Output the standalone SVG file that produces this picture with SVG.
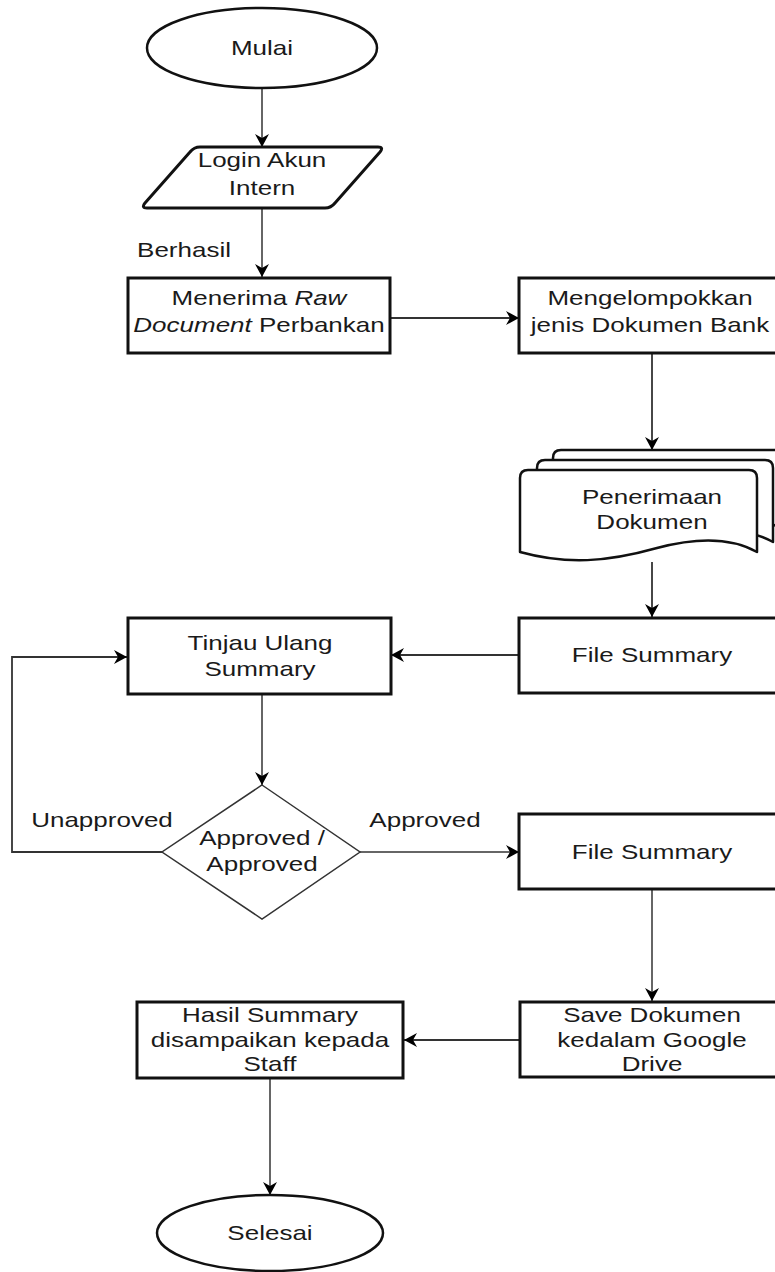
<svg xmlns="http://www.w3.org/2000/svg" width="775" height="1272" viewBox="0 0 775 1272">
<style>
.t{font-family:"Liberation Sans",Arial,Helvetica,sans-serif;font-size:20px;fill:#1a1a1a;text-anchor:middle}
.box{fill:#fff;stroke:#111;stroke-width:3}
.term{fill:#fff;stroke:#111;stroke-width:2.5}
.dec{fill:#fff;stroke:#333;stroke-width:1.5}
.doc{fill:#fff;stroke:#111;stroke-width:2.5;stroke-linejoin:round}
.c{fill:none;stroke:#333;stroke-width:1.8}
.cg{fill:none;stroke:#666;stroke-width:2}
</style>
<defs>
<marker id="ah" markerUnits="userSpaceOnUse" markerWidth="14" markerHeight="14" refX="13" refY="7" orient="auto">
<path d="M0,0 L13,7 L0,14 L4,7 z" fill="#000"/>
</marker>
</defs>
<rect width="775" height="1272" fill="#fff"/>

<g id="connectors">
<path class="cg" d="M262,88 V147" marker-end="url(#ah)"/>
<path class="cg" d="M262,208 V277" marker-end="url(#ah)"/>
<path class="c" d="M390,318 H519" marker-end="url(#ah)"/>
<path class="c" d="M652,353 V450" marker-end="url(#ah)"/>
<path class="c" d="M652,562 V617" marker-end="url(#ah)"/>
<path class="c" d="M519,655 H391" marker-end="url(#ah)"/>
<path class="cg" d="M262,693 V785" marker-end="url(#ah)"/>
<path class="c" d="M162,852 H12 V657 H127" marker-end="url(#ah)"/>
<path class="cg" d="M360,852 H519" marker-end="url(#ah)"/>
<path class="cg" d="M652,889 V1001" marker-end="url(#ah)"/>
<path class="c" d="M520,1040 H404" marker-end="url(#ah)"/>
<path class="cg" d="M270,1078 V1195" marker-end="url(#ah)"/>
<text class="t" transform="translate(184,0) scale(1.3,1)" y="257">Berhasil</text>
<text class="t" transform="translate(102,0) scale(1.3,1)" y="827">Unapproved</text>
<text class="t" transform="translate(425,0) scale(1.3,1)" y="827">Approved</text>
</g>

<g id="mulai">
<ellipse class="term" cx="262" cy="48" rx="115" ry="40"/>
<text class="t" transform="translate(262,0) scale(1.3,1)" y="55">Mulai</text>
</g>

<g id="login">
<path class="box" stroke-width="2.5" stroke-linejoin="round" d="M200,147 H378 Q384,147 380,152 L335,203 Q331,208 325,208 H147 Q141,208 145,203 L190,152 Q194,147 200,147 z"/>
<text class="t" transform="translate(262,0) scale(1.3,1)" y="167">Login Akun</text>
<text class="t" transform="translate(262,0) scale(1.3,1)" y="195">Intern</text>
</g>

<g id="menerima">
<rect class="box" x="128" y="278" width="262" height="75"/>
<text class="t" transform="translate(259,0) scale(1.3,1)" y="305">Menerima <tspan font-style="italic">Raw</tspan></text>
<text class="t" transform="translate(259,0) scale(1.3,1)" y="332"><tspan font-style="italic">Document</tspan> Perbankan</text>
</g>

<g id="mengelompokkan">
<rect class="box" x="519" y="278" width="264" height="75"/>
<text class="t" transform="translate(650,0) scale(1.3,1)" y="305">Mengelompokkan</text>
<text class="t" transform="translate(650,0) scale(1.3,1)" y="332">jenis Dokumen Bank</text>
</g>

<g id="penerimaan">
<path class="doc" d="M561,450 H782 Q790,450 790,458 V532 C760,515 720,520 690,528 C640,542 600,545 553,532 V458 Q553,450 561,450 z"/>
<path class="doc" d="M545,460 H765 Q773,460 773,468 V542 C743,525 703,530 673,538 C623,552 583,555 537,542 V468 Q537,460 545,460 z"/>
<path class="doc" d="M528,470 H749 Q757,470 757,478 V552 C727,535 687,540 657,548 C607,562 567,565 520,552 V478 Q520,470 528,470 z"/>
<text class="t" transform="translate(652,0) scale(1.3,1)" y="504">Penerimaan</text>
<text class="t" transform="translate(652,0) scale(1.3,1)" y="529">Dokumen</text>
</g>

<g id="file-summary-1">
<rect class="box" x="519" y="618" width="264" height="75"/>
<text class="t" transform="translate(652,0) scale(1.3,1)" y="662">File Summary</text>
</g>

<g id="tinjau">
<rect class="box" x="128" y="618" width="263" height="76"/>
<text class="t" transform="translate(260,0) scale(1.3,1)" y="650">Tinjau Ulang</text>
<text class="t" transform="translate(260,0) scale(1.3,1)" y="676">Summary</text>
</g>

<g id="decision">
<path class="dec" d="M262,785 L360,852 L262,919 L162,852 z"/>
<text class="t" transform="translate(262,0) scale(1.3,1)" y="845">Approved /</text>
<text class="t" transform="translate(262,0) scale(1.3,1)" y="871">Approved</text>
</g>

<g id="file-summary-2">
<rect class="box" x="519" y="814" width="264" height="75"/>
<text class="t" transform="translate(652,0) scale(1.3,1)" y="859">File Summary</text>
</g>

<g id="save">
<rect class="box" x="520" y="1002" width="263" height="75"/>
<text class="t" transform="translate(652,0) scale(1.3,1)" y="1022">Save Dokumen</text>
<text class="t" transform="translate(652,0) scale(1.3,1)" y="1047">kedalam Google</text>
<text class="t" transform="translate(652,0) scale(1.3,1)" y="1071">Drive</text>
</g>

<g id="hasil">
<rect class="box" x="137" y="1002" width="266" height="76"/>
<text class="t" transform="translate(270,0) scale(1.3,1)" y="1022">Hasil Summary</text>
<text class="t" transform="translate(270,0) scale(1.3,1)" y="1047">disampaikan kepada</text>
<text class="t" transform="translate(270,0) scale(1.3,1)" y="1071">Staff</text>
</g>

<g id="selesai">
<ellipse class="term" cx="270" cy="1233" rx="113" ry="38"/>
<text class="t" transform="translate(270,0) scale(1.3,1)" y="1240">Selesai</text>
</g>
</svg>
